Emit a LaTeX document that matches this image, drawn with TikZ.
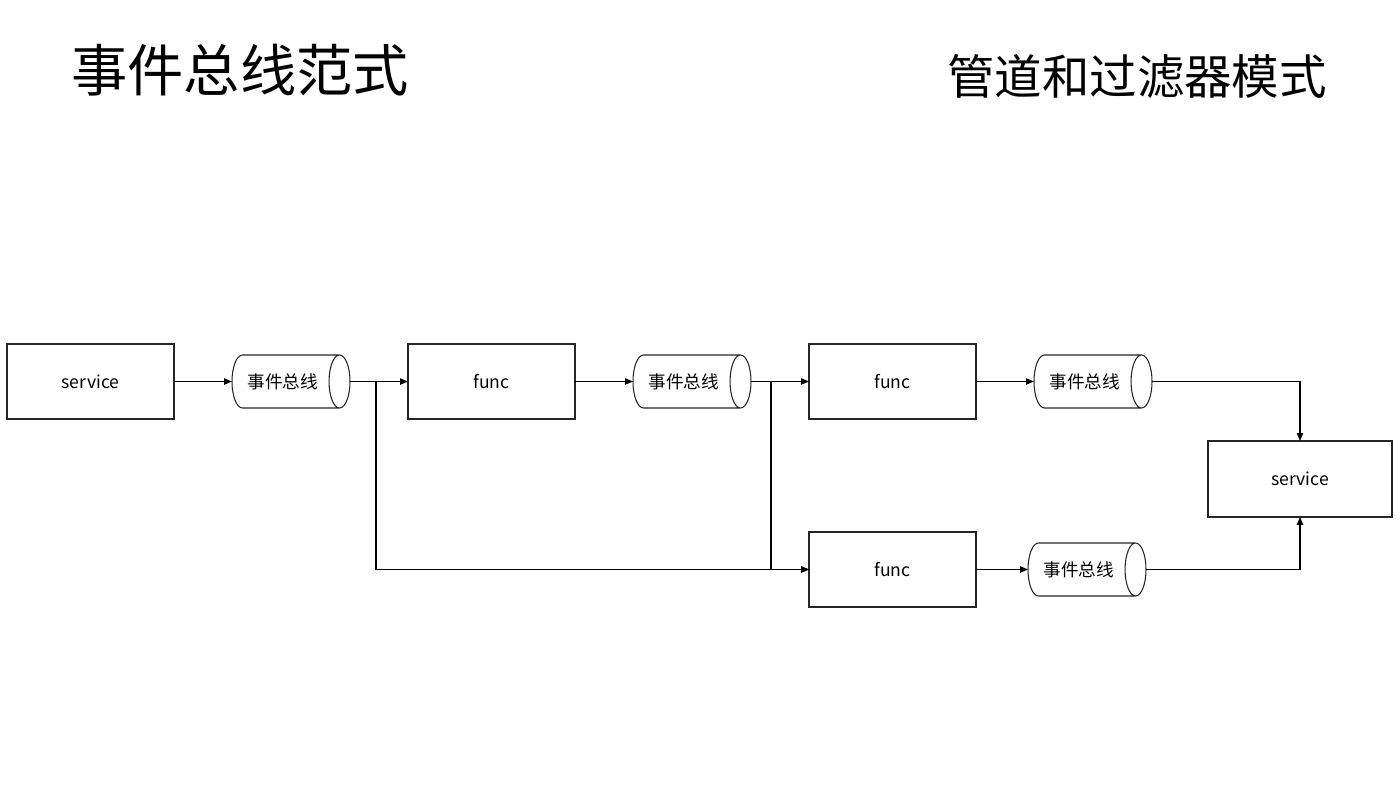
\documentclass[tikz,border=0pt]{standalone}
\usepackage{fontspec}
\setmainfont{Noto Sans CJK SC}
\usetikzlibrary{shapes.geometric, arrows.meta, positioning}

\begin{document}
\begin{tikzpicture}[
        font=\fontsize{10pt}{12pt}\selectfont,
        >={Triangle[length=4.5pt,width=3.6pt]},
        line width=0.6pt,
        node distance=1.16cm,
        box/.style={
            draw=black!85,
            fill=white,
            line width=0.6pt,
            outer sep=0pt,
            align=center,
            minimum width=3.34cm,
            minimum height=1.5cm
        },
        bus/.style={
            cylinder,
            draw=black!85,
            fill=white,
            line width=0.6pt,
            outer sep=0pt,
            aspect=0.9,
            minimum width=1.06cm,
            minimum height=2.36cm,
            inner sep=2pt
        },
        title/.style={
            font=\fontsize{32pt}{36pt}\selectfont
        }
    ]

        \useasboundingbox (0,0) rectangle (28,-15.76);

        \node[title] (titleBus) at (4.8,-1.4) {事件总线范式};
        \node[title, font=\fontsize{27pt}{30pt}\selectfont] (titlePipe) at (22.74,-1.52) {管道和过滤器模式};

        \node[box] (svcIn) at (1.81,-7.63) {service};
        \node[bus, right=of svcIn] (bus1) {事件总线};
        \node[box, right=of bus1] (func1) {func};
        \node[bus, right=of func1] (bus2) {事件总线};
        \node[box, right=of bus2] (func2) {func};
        \node[bus, right=of func2] (bus3) {事件总线};

        \node[box, below=2.26cm of func2] (func3) {func};
        \node[bus, right=1.04cm of func3] (bus4) {事件总线};

        \node[box, minimum width=3.68cm, minimum height=1.52cm] (svcOut) at (26.0,-9.58) {service};

        \draw[->] (svcIn) -- (bus1);
        \draw[->] (bus1) -- (func1);
        \draw[->] (func1) -- (bus2);
        \draw[->] (bus2) -- (func2);
        \draw[->] (func2) -- (bus3);
        \draw[->] (func3) -- (bus4);

        \draw[->] (bus1.east) -- ++(0.52,0) |- (func3.west);
        \draw[->] (bus2.east) -- ++(0.4,0) |- (func3.west);

        \draw[->] (bus3.east) -| (svcOut.north);
        \draw[->] (bus4.east) -| (svcOut.south);

    \end{tikzpicture}
\end{document}
